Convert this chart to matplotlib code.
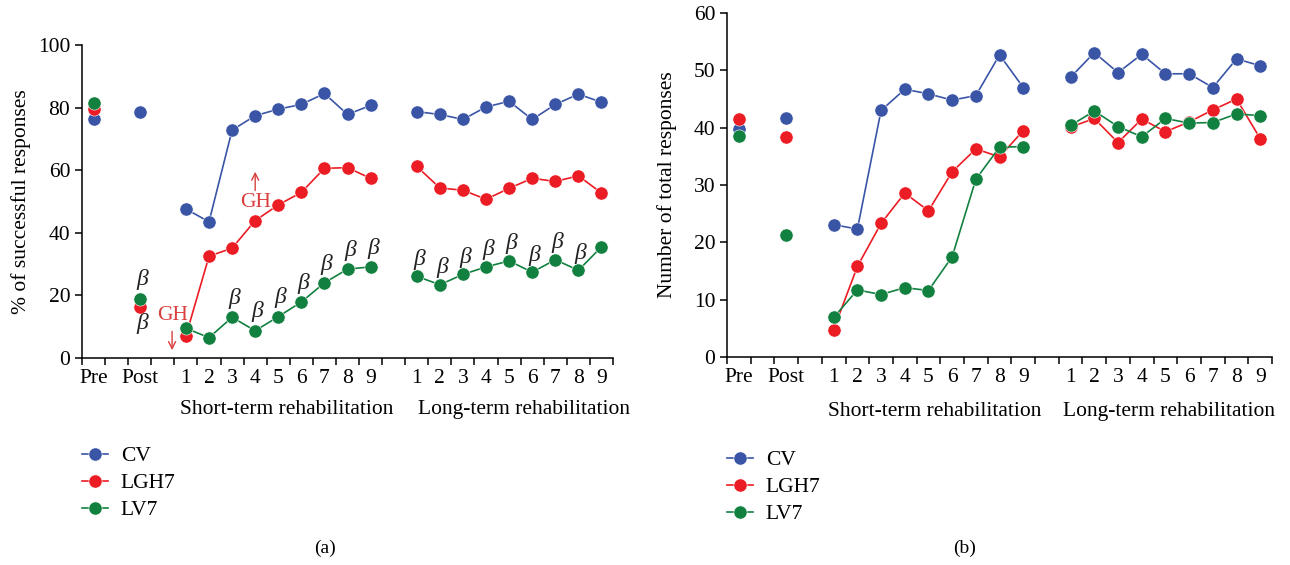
import matplotlib
matplotlib.use("Agg")
from matplotlib import pyplot as plt
from matplotlib.lines import Line2D
import numpy as np

plt.rcParams["font.family"] = ["Liberation Serif", "DejaVu Serif"]

# x positions: Pre=0, Post=2, short-term 1..9 = 4..12, long-term 1..9 = 14..22
pre_post_x = [0, 2]
short_x = list(range(4, 13))
long_x = list(range(14, 23))
tick_pos = [0, 2] + short_x + long_x
tick_labels = ["Pre", "Post"] + [str(i) for i in range(1, 10)] * 2

# (a) % of successful responses
a_cv_pp = [76.4, 78.7]
a_cv_short = [47.6, 43.5, 72.8, 77.4, 79.5, 81.0, 84.5, 77.8, 80.7]
a_cv_long = [78.7, 77.8, 76.2, 80.2, 82.0, 76.2, 81.0, 84.3, 81.7]
a_lgh_pp = [79.5, 16.4]
a_lgh_short = [7.1, 32.5, 35.1, 43.9, 48.9, 52.9, 60.6, 60.8, 57.4]
a_lgh_long = [61.2, 54.3, 53.6, 50.7, 54.2, 57.4, 56.4, 58.2, 52.7]
a_lv_pp = [81.5, 18.8]
a_lv_short = [9.5, 6.5, 13.0, 8.7, 13.2, 17.9, 24.0, 28.4, 29.1]
a_lv_long = [26.1, 23.4, 26.7, 29.1, 31.0, 27.4, 31.4, 28.0, 35.5]

# (b) number of total responses
b_cv_pp = [39.7, 41.7]
b_cv_short = [23.1, 22.3, 43.0, 46.7, 45.9, 44.8, 45.6, 52.7, 47.0]
b_cv_long = [48.8, 53.1, 49.6, 52.8, 49.4, 49.4, 47.0, 52.0, 50.8]
b_lgh_pp = [41.5, 38.3]
b_lgh_short = [4.8, 15.8, 23.3, 28.6, 25.5, 32.3, 36.3, 34.9, 39.5]
b_lgh_long = [40.1, 41.6, 37.4, 41.5, 39.3, 41.0, 43.1, 45.0, 38.1]
b_lv_pp = [38.5, 21.3]
b_lv_short = [6.9, 11.7, 10.9, 12.1, 11.6, 17.5, 31.0, 36.6, 36.7]
b_lv_long = [40.4, 42.9, 40.2, 38.4, 41.6, 40.8, 40.9, 42.4, 42.1]

colors = {"CV": "#3a55a6", "LGH7": "#ec1c24", "LV7": "#128140"}
series_names = ["CV", "LGH7", "LV7"]
fs = 15.5

fig = plt.figure(figsize=(12.9, 5.65), dpi=100)
ax_a = fig.add_axes([0.0636, 0.3664, 0.4116, 0.554])
ax_b = fig.add_axes([0.5636, 0.3681, 0.4225, 0.6089])


def draw_panel(ax, data, ymax, ystep, ylabel, lpad):
    for name, (pp, short, long) in zip(series_names, data):
        c = colors[name]
        ax.plot(pre_post_x, pp, linestyle="none", marker="o", markersize=9.5,
                color=c, markeredgecolor="white", markeredgewidth=0.4, zorder=3)
        ax.plot(short_x, short, marker="o", markersize=9.5, color=c, linewidth=1.2,
                markeredgecolor="white", markeredgewidth=0.4, zorder=3)
        ax.plot(long_x, long, marker="o", markersize=9.5, color=c, linewidth=1.2,
                markeredgecolor="white", markeredgewidth=0.4, zorder=3)
    ax.set_xlim(-0.5, 22.5)
    ax.set_ylim(0, ymax)
    ax.set_yticks(np.arange(0, ymax + 1, ystep))
    ax.set_xticks(np.arange(-0.5, 23, 1))
    ax.set_xticklabels([])
    ax.set_xticks(tick_pos, minor=True)
    ax.set_xticklabels(tick_labels, minor=True)
    ax.tick_params(axis="x", which="major", direction="out", length=5, width=1.1)
    ax.tick_params(axis="x", which="minor", length=0, pad=8, labelsize=fs)
    ax.tick_params(axis="y", direction="out", length=5, width=1.1, labelsize=fs)
    for s in ["top", "right"]:
        ax.spines[s].set_visible(False)
    for s in ["left", "bottom"]:
        ax.spines[s].set_linewidth(1.1)
    ax.set_ylabel(ylabel, fontsize=fs, labelpad=lpad)


draw_panel(ax_a,
           [(a_cv_pp, a_cv_short, a_cv_long),
            (a_lgh_pp, a_lgh_short, a_lgh_long),
            (a_lv_pp, a_lv_short, a_lv_long)],
           100, 20, "% of successful responses", 5)
draw_panel(ax_b,
           [(b_cv_pp, b_cv_short, b_cv_long),
            (b_lgh_pp, b_lgh_short, b_lgh_long),
            (b_lv_pp, b_lv_short, b_lv_long)],
           60, 10, "Number of total responses", 12)

# group labels under the axes
ax_a.text(8.35, -0.166, "Short-term rehabilitation", transform=ax_a.get_xaxis_transform(),
          ha="center", va="center", fontsize=fs)
ax_a.text(18.65, -0.166, "Long-term rehabilitation", transform=ax_a.get_xaxis_transform(),
          ha="center", va="center", fontsize=fs)
ax_b.text(8.25, -0.157, "Short-term rehabilitation", transform=ax_b.get_xaxis_transform(),
          ha="center", va="center", fontsize=fs)
ax_b.text(18.15, -0.157, "Long-term rehabilitation", transform=ax_b.get_xaxis_transform(),
          ha="center", va="center", fontsize=fs)

# beta marks on LV7 in panel (a)
beta_kw = dict(ha="center", va="center", fontsize=17, style="italic", color="#222222")
ax_a.text(2.1, 25.0, "β", **beta_kw)
ax_a.text(2.1, 11.0, "β", **beta_kw)
for i in range(2, 9):
    ax_a.text(short_x[i] + 0.1, a_lv_short[i] + 6.0, "β", **beta_kw)
for i in range(0, 8):
    ax_a.text(long_x[i] + 0.1, a_lv_long[i] + 5.5, "β", **beta_kw)

# GH markers
gh_col = "#d8403f"
arrow_kw = dict(arrowstyle="->,head_length=0.5,head_width=0.25", color=gh_col, lw=1.0,
                shrinkA=0, shrinkB=0)
ax_a.text(3.4, 13.7, "GH", ha="center", va="center", fontsize=fs, color=gh_col)
ax_a.annotate("", xy=(3.4, 2.5), xytext=(3.4, 8.5), arrowprops=arrow_kw)
ax_a.text(7.0, 49.6, "GH", ha="center", va="center", fontsize=fs, color=gh_col)
ax_a.annotate("", xy=(7.0, 59.5), xytext=(7.0, 53.5), arrowprops=arrow_kw)

# legends
handles = [Line2D([0], [0], color=colors[n], marker="o", markersize=9.5, linewidth=1.2,
                  markeredgecolor="white", markeredgewidth=0.4) for n in series_names]
leg_kw = dict(loc="upper left", frameon=False, fontsize=fs, handlelength=1.2,
              labelspacing=0.33, handletextpad=0.6, borderaxespad=0, borderpad=0)
fig.legend(handles, series_names, bbox_to_anchor=(0.0636, 0.2106), **leg_kw)
fig.legend(handles, series_names, bbox_to_anchor=(0.5636, 0.2035), **leg_kw)

fig.text(325 / 1290, 1 - 548 / 565, "(a)", ha="center", va="center", fontsize=14)
fig.text(965 / 1290, 1 - 548 / 565, "(b)", ha="center", va="center", fontsize=14)

plt.savefig("out.png", dpi=100)
